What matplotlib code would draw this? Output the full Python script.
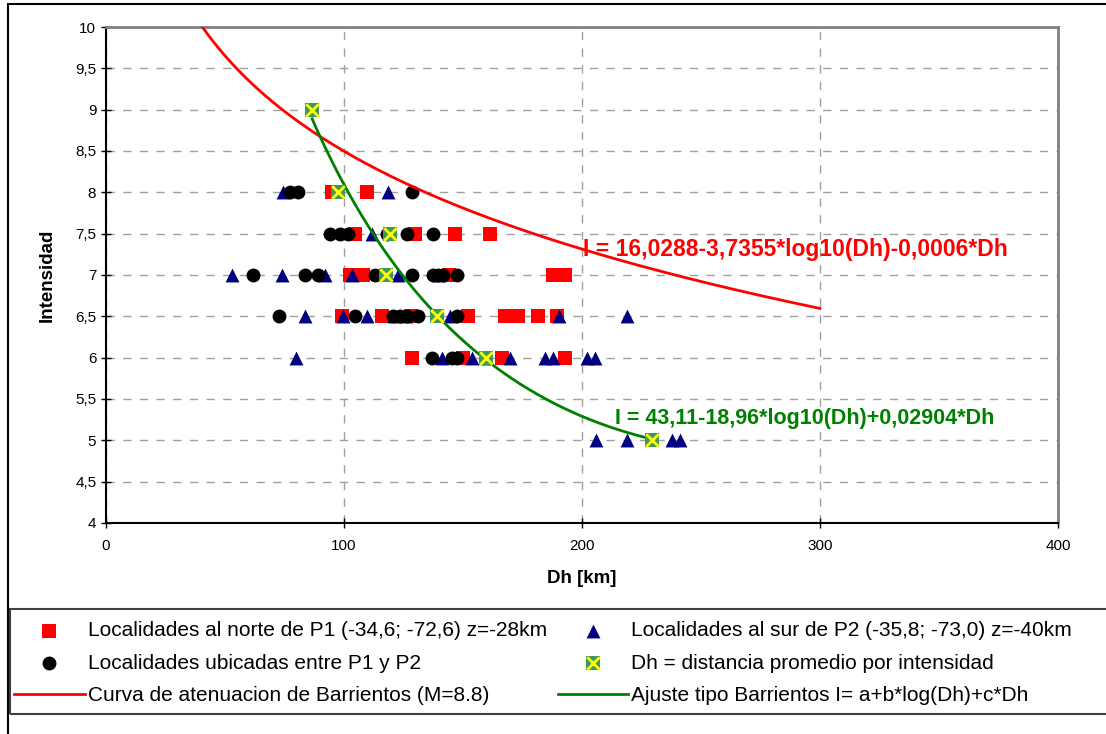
#! /usr/bin/env python3

#Intensity vs hypocentral distance with Barrientos attenuation curves
import numpy as np
import matplotlib
matplotlib.use("Agg")
import matplotlib.pyplot as plt
from matplotlib.ticker import FuncFormatter, MultipleLocator
from matplotlib.patches import Rectangle

plt.rcParams['font.family'] = ['Liberation Sans', 'DejaVu Sans']

#Localidades al norte de P1 (red squares)
norte_dh = [95, 109.6,
            104.6, 129.8, 146.6, 161.3,
            102.5, 108, 144, 187.8, 192.9,
            99.2, 116, 128, 152, 167.6, 173, 181.5, 189.5,
            128.6, 150, 166.4, 192.9]
norte_i = [8, 8,
           7.5, 7.5, 7.5, 7.5,
           7, 7, 7, 7, 7,
           6.5, 6.5, 6.5, 6.5, 6.5, 6.5, 6.5, 6.5,
           6, 6, 6, 6]

#Localidades al sur de P2 (navy triangles)
sur_dh = [74.4, 118.5,
          111.8,
          52.9, 73.9, 92, 103.2, 122.7, 140,
          83.6, 99.6, 109.6, 121, 126, 144.5, 190.3, 219,
          79.8, 141, 153.8, 160, 169.7, 184.5, 187.8, 202, 205.5,
          206, 219, 237.8, 241.2]
sur_i = [8, 8,
         7.5,
         7, 7, 7, 7, 7, 7,
         6.5, 6.5, 6.5, 6.5, 6.5, 6.5, 6.5, 6.5,
         6, 6, 6, 6, 6, 6, 6, 6, 6,
         5, 5, 5, 5]

#Localidades entre P1 y P2 (black circles)
entre_dh = [77.3, 80.7, 128.6,
            94, 98.3, 101.7, 118, 126.5, 137.4,
            61.6, 83.6, 89, 113, 128.6, 137.4, 139.5, 141.6, 147.5,
            72.7, 104.6, 120.6, 123.5, 126.5, 131, 147.5,
            137, 145.4, 147.5]
entre_i = [8, 8, 8,
           7.5, 7.5, 7.5, 7.5, 7.5, 7.5,
           7, 7, 7, 7, 7, 7, 7, 7, 7,
           6.5, 6.5, 6.5, 6.5, 6.5, 6.5, 6.5,
           6, 6, 6]

#Distancia promedio por intensidad
prom_dh = [86.6, 97.5, 119.3, 117.6, 139, 159.7, 229.4]
prom_i = [9, 8, 7.5, 7, 6.5, 6, 5]

#Curve coefficients
barr = (16.0288, -3.7355, -0.0006)
ajuste = (43.11, -18.96, 0.02904)


def curve(coef, dh):
    return coef[0] + coef[1] * np.log10(dh) + coef[2] * dh


fig = plt.figure(figsize=(11.06, 7.34), dpi=100)
ax = fig.add_axes([106 / 1106, 1 - 523 / 734, 952 / 1106, 496 / 734])

ms = 10
sq = ax.scatter(norte_dh, norte_i, marker='s', s=ms**2, color='#ff0000',
                linewidths=0, zorder=3)
tri = ax.scatter(sur_dh, sur_i, marker='^', s=ms**2, color='#000080',
                 linewidths=0, zorder=3.2)
circ = ax.scatter(entre_dh, entre_i, marker='o', s=ms**2, color='black',
                  linewidths=0, zorder=3.4)

dh_r = np.linspace(30, 300, 300)
red_line, = ax.plot(dh_r, curve(barr, dh_r), color='#ff0000', lw=2, zorder=4)
dh_g = np.linspace(prom_dh[0], prom_dh[-1], 300)
green_line, = ax.plot(dh_g, curve(ajuste, dh_g), color='#008000', lw=2, zorder=4)

pbox = ax.scatter(prom_dh, prom_i, marker='s', s=ms**2, color='#3a9a5c',
                  linewidths=0, zorder=5)
px = ax.scatter(prom_dh, prom_i, marker='x', s=(ms * 0.9)**2, color='#ffff00',
                linewidths=2, zorder=6)

ax.text(200.4, 7.31, 'I = 16,0288-3,7355*log10(Dh)-0,0006*Dh', color='#ff0000',
        fontsize=16.5, fontweight='bold', va='center', ha='left')
ax.text(213.9, 5.27, 'I = 43,11-18,96*log10(Dh)+0,02904*Dh', color='#008000',
        fontsize=15.5, fontweight='bold', va='center', ha='left')

ax.set_xlim(0, 400)
ax.set_ylim(4, 10)
ax.xaxis.set_major_locator(MultipleLocator(100))
ax.yaxis.set_major_locator(MultipleLocator(0.5))
ax.yaxis.set_major_formatter(FuncFormatter(
    lambda v, p: ('%g' % v).replace('.', ',')))
ax.grid(True, color='#a0a0a0', linestyle=(0, (6, 6)), linewidth=1)
ax.set_axisbelow(True)
ax.tick_params(direction='inout', length=7, labelsize=11, width=1,
               colors='black')
ax.tick_params(axis='x', pad=8)

ax.spines['left'].set_color('black')
ax.spines['bottom'].set_color('black')
ax.spines['left'].set_linewidth(1.5)
ax.spines['bottom'].set_linewidth(1.5)
ax.spines['top'].set_color('#808080')
ax.spines['right'].set_color('#808080')
ax.spines['top'].set_linewidth(2)
ax.spines['right'].set_linewidth(2)

ax.set_xlabel('Dh [km]', fontsize=13.5, fontweight='bold', labelpad=12)
ax.set_ylabel('Intensidad', fontsize=13.5, fontweight='bold', labelpad=14)

#Outer frame and legend box
fig.patches.append(Rectangle((8 / 1106, -0.1), 1.2, 1 - 4 / 734 + 0.1,
                             transform=fig.transFigure, fill=False,
                             edgecolor='black', lw=1.5))
fig.patches.append(Rectangle((10 / 1106, 1 - 714 / 734), 1.2, 105 / 734,
                             transform=fig.transFigure, fill=False,
                             edgecolor='#404040', lw=1.5))

handles = [sq, circ, red_line, tri, (pbox, px), green_line]
labels = ['Localidades al norte de P1 (-34,6; -72,6) z=-28km',
          'Localidades ubicadas entre P1 y P2',
          'Curva de atenuacion de Barrientos (M=8.8)',
          'Localidades al sur de P2 (-35,8; -73,0) z=-40km',
          'Dh = distancia promedio por intensidad',
          'Ajuste tipo Barrientos I= a+b*log(Dh)+c*Dh']
fig.legend(handles, labels, ncol=2, loc='upper left',
           bbox_to_anchor=(14 / 1106, 1 - 621 / 734), frameon=False,
           fontsize=15, handlelength=3.4, handletextpad=0.15,
           columnspacing=0.5, labelspacing=0.65, borderaxespad=0,
           borderpad=0)

fig.savefig('out.png', dpi=100)
